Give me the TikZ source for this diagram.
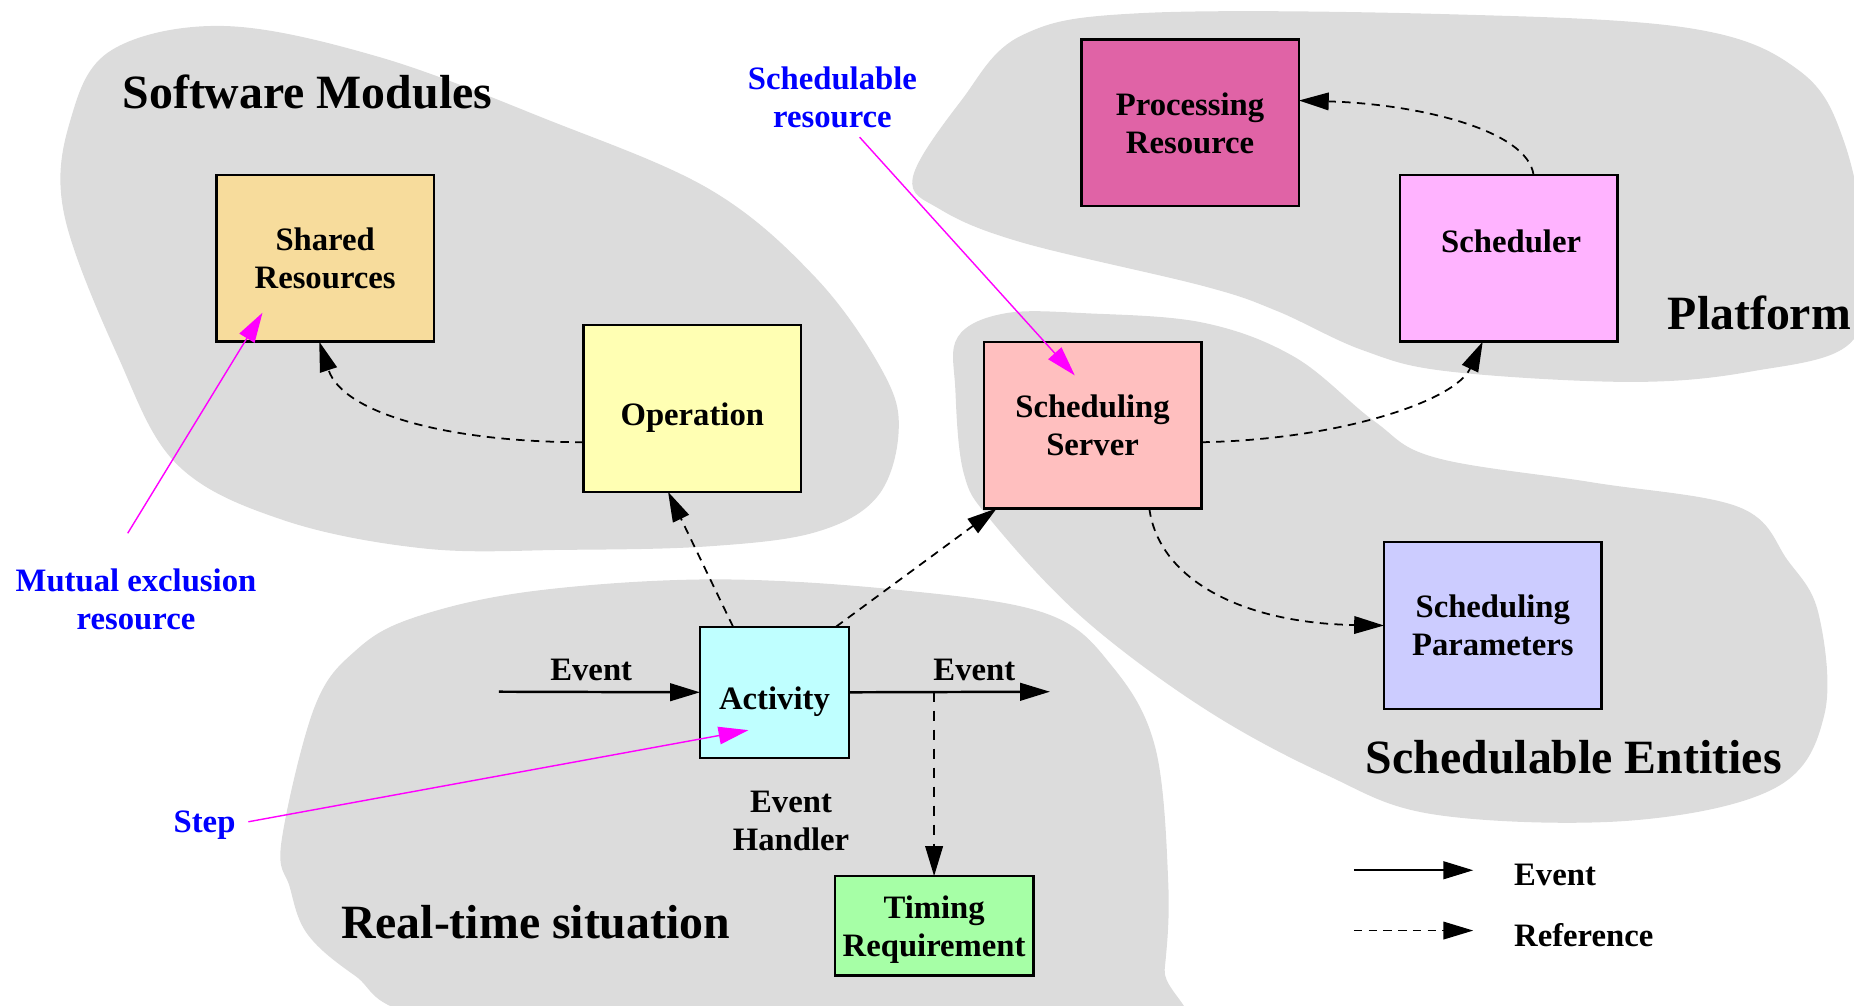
\documentclass[tikz,border=0pt]{standalone}
\usepackage{fontspec}
\setmainfont{Liberation Serif}
\usetikzlibrary{arrows.meta}
\definecolor{blobgray}{HTML}{DCDCDC}
\definecolor{cShared}{HTML}{F7DC9C}
\definecolor{cOp}{HTML}{FFFFB3}
\definecolor{cProc}{HTML}{E063A6}
\definecolor{cSched}{HTML}{FFB3FF}
\definecolor{cServer}{HTML}{FFBFBF}
\definecolor{cParams}{HTML}{CCCCFF}
\definecolor{cAct}{HTML}{BFFFFF}
\definecolor{cTiming}{HTML}{A6FFA6}
\definecolor{noteblue}{HTML}{0000FF}
\definecolor{notemag}{HTML}{FF00FF}
\begin{document}
\begin{tikzpicture}[x=0.011824cm,y=-0.011824cm,
  tip/.style={-{Triangle[length=8.5pt,width=5pt]}},
  box/.style={draw,line width=0.7pt,inner sep=0pt,outer sep=0pt,align=center,text depth=0pt,
    font=\fontsize{9.3}{10.8}\selectfont\bfseries,minimum width=61.9pt,minimum height=47.4pt},
  lowtext/.style={text height=0.99em,text depth=0pt},
  lbl/.style={align=center,inner sep=0pt,font=\fontsize{9.3}{10.8}\selectfont\bfseries},
  bluelbl/.style={lbl,text=noteblue},
  title/.style={inner sep=0pt,font=\fontsize{13.6}{16}\selectfont\bfseries},
  refline/.style={tip,line width=0.5pt,dash pattern=on 2.4pt off 1.8pt},
  evtline/.style={tip,line width=0.7pt},
  noteline/.style={tip,draw=notemag,line width=0.4pt},
]
\useasboundingbox (0,0) rectangle (1568,850);
\begin{scope}
\clip (0,0) rectangle (1568,850);
% Software Modules blob
\fill[blobgray] plot[smooth cycle,tension=0.6] coordinates {(54,180) (60,100) (95,42) (190,22) (320,48) (460,100) (600,160) (690,235) (747,315) (760,365) (742,420) (690,450) (600,462) (480,465) (360,464) (240,440) (150,393) (100,302)};
% Platform blob
\fill[blobgray] plot[smooth cycle,tension=0.6] coordinates {(772,150) (813,85) (864,30) (967,11) (1224,12) (1430,24) (1522,60) (1560,121) (1578,220) (1565,290) (1482,314) (1379,323) (1224,314) (1152,296) (1080,263) (1018,242) (864,205) (795,177)};
% Schedulable Entities blob
\fill[blobgray] plot[smooth cycle,tension=0.6] coordinates {(808,330) (810,285) (850,265) (920,265) (1018,273) (1095,302) (1162,356) (1214,387) (1347,408) (1471,429) (1512,474) (1538,519) (1543,604) (1502,666) (1379,694) (1214,689) (1121,655) (1018,599) (915,522) (838,440) (815,400)};
% Real-time situation blob
\fill[blobgray] plot[smooth cycle,tension=0.6] coordinates {(238,712) (266,598) (301,550) (351,522) (450,500) (602,490) (761,499) (885,519) (941,564) (977,632) (988,746) (985,820) (975,880) (600,890) (360,860) (300,825) (260,790) (245,750)};
\end{scope}

% titles
\node[title] (tsw) at (260,78) {Software Modules};
\node[title] (tpf) at (1488,265) {Platform};
\node[title] (tse) at (1331,640) {Schedulable Entities};
\node[title] (trt) at (453,780) {Real-time situation};

% boxes
\node[box,fill=cShared] (shared) at (275,218.5) {Shared\\Resources};
\node[box,lowtext,fill=cOp] (op) at (585.5,345.5) {Operation};
\node[box,fill=cProc] (proc) at (1006.5,104) {Processing\\Resource};
\node[box,fill=cSched] (sched) at (1276,218.5) {};
\node[lbl] (schedtxt) at (1278,204) {Scheduler};
\node[box,fill=cServer] (server) at (924,359.5) {Scheduling\\Server};
\node[box,fill=cParams] (params) at (1262.5,529) {Scheduling\\Parameters};
\node[box,lowtext,fill=cAct,minimum width=42.4pt,minimum height=37.3pt] (act) at (655,585.5) {Activity};
\node[box,fill=cTiming,minimum width=56.5pt,minimum height=28.3pt] (timing) at (790,783) {Timing\\Requirement};

% labels
\node[lbl] (evin) at (500,567) {Event};
\node[lbl] (evout) at (824,567) {Event};
\node[lbl] (evh) at (669,694) {Event\\Handler};
\node[bluelbl] (lsr) at (704,82) {Schedulable\\resource};
\node[bluelbl] (lme) at (115,507) {Mutual exclusion\\resource};
\node[bluelbl] (lstep) at (173,698) {Step};

% coordinates
\coordinate (inStart) at (422,585);
\coordinate (outEnd) at (888,585);
\coordinate (branch) at (790,585);
\coordinate (srStart) at (727,116);
\coordinate (meStart) at (108,451);
\coordinate (stStart) at (210,695);

% reference connectors
\draw[refline] ([shift={(0,28.5)}]op.west) .. controls (380,374) and (290,350) .. ([shift={(-5,0)}]shared.south);
\draw[refline] ([shift={(-35,0)}]act.north) -- ([shift={(-20.5,0)}]op.south);
\draw[refline] ([shift={(52,0)}]act.north) -- ([shift={(11,0)}]server.south west);
\draw[refline] ([shift={(0,14.5)}]server.east) .. controls (1130,372) and (1230,340) .. ([shift={(-22,0)}]sched.south);
\draw[refline] ([shift={(21,0)}]sched.north) .. controls (1292,110) and (1200,88) .. ([shift={(0,-19)}]proc.east);
\draw[refline] ([shift={(48,0)}]server.south) .. controls (980,490) and (1050,527) .. (params.west);
\draw[refline,dash pattern=on 3pt off 2.4pt] (branch) -- (timing.north);

% event connectors
\draw[evtline] (inStart) -- (act.west);
\draw[evtline] (act.east) -- (outEnd);

% notes
\draw[noteline] (srStart) -- ([shift={(-15,-42)}]server.center);
\draw[noteline] (meStart) -- ([shift={(-53,46)}]shared.center);
\draw[noteline] (stStart) -- ([shift={(-22,32)}]act.center);

% legend
\coordinate (lg1a) at (1145,736);
\coordinate (lg1b) at (1246,736);
\coordinate (lg2a) at (1145,787);
\coordinate (lg2b) at (1246,787);
\draw[evtline] (lg1a) -- (lg1b);
\draw[refline] (lg2a) -- (lg2b);
\node[lbl,anchor=west] (lgev) at (1280,740) {Event};
\node[lbl,anchor=west] (lgref) at (1280,791) {Reference};
\end{tikzpicture}
\end{document}
